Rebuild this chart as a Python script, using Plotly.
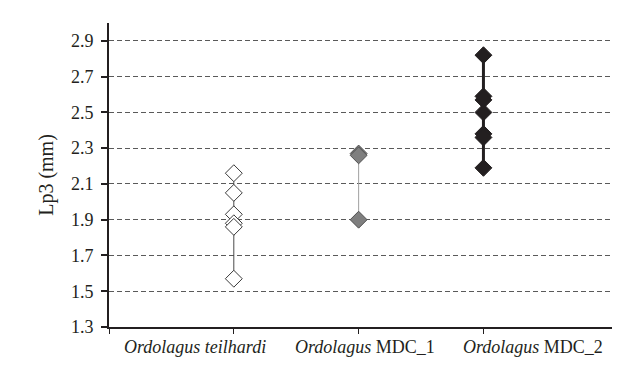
import plotly.graph_objects as go

# Data
group_pos = [1, 2, 3]
teilhardi = [2.16, 2.05, 1.93, 1.88, 1.86, 1.57]
mdc1 = [2.27, 2.26, 1.90]
mdc2 = [2.82, 2.59, 2.57, 2.50, 2.38, 2.36, 2.19]
label_pos = [0.69, 2.05, 3.40]
labels = ["<i>Ordolagus teilhardi</i>", "<i>Ordolagus</i> MDC_1", "<i>Ordolagus</i> MDC_2"]
y_ticks = [1.3, 1.5, 1.7, 1.9, 2.1, 2.3, 2.5, 2.7, 2.9]

AX = "#231f20"
FONT = "Liberation Serif"

fig = go.Figure()

series = [
    (teilhardi, group_pos[0], "#4a4a4a", 1, "white", "#3a3a3a"),
    (mdc1, group_pos[1], "#a0a0a0", 1, "#7f7f7f", "#505050"),
    (mdc2, group_pos[2], AX, 3, AX, AX),
]
for vals, xp, lc, lw, fc, mc in series:
    fig.add_trace(go.Scatter(
        x=[xp] * len(vals), y=vals, mode="lines+markers",
        line=dict(color=lc, width=lw),
        marker=dict(symbol="diamond", size=13, color=fc,
                    line=dict(color=mc, width=1)),
        showlegend=False, hoverinfo="skip", cliponaxis=False,
    ))

for xp, t in zip(label_pos, labels):
    fig.add_annotation(x=xp, y=0, xref="x", yref="paper", yanchor="top", yshift=-8,
                       text=t, showarrow=False,
                       font=dict(family=FONT, size=18, color=AX))

fig.update_layout(
    width=629, height=373,
    margin=dict(l=109, r=17, t=23, b=46),
    paper_bgcolor="white", plot_bgcolor="white",
    font=dict(family=FONT, size=18, color=AX),
    xaxis=dict(range=[0, 4.03], tickvals=[0, 1, 2, 3], ticktext=["", "", "", ""],
               ticks="outside", ticklen=5, tickcolor=AX, tickwidth=1,
               showline=True, linecolor=AX, linewidth=2, automargin=False,
               showgrid=False, zeroline=False, fixedrange=True),
    yaxis=dict(range=[1.3, 3.0], tickvals=y_ticks,
               ticktext=[f"{v:.1f}" for v in y_ticks],
               ticks="outside", ticklen=6, tickcolor=AX, tickwidth=1.5,
               showline=True, linecolor=AX, linewidth=2, automargin=False,
               showgrid=True, gridcolor="#5a5a5a", griddash="5px,3px", gridwidth=1,
               zeroline=False, ticklabelstandoff=4, fixedrange=True,
               title=dict(text="Lp3 (mm)", standoff=12,
                          font=dict(family=FONT, size=20, color=AX))),
)

fig.write_html("out.html", config={"displayModeBar": False},
               post_script="document.body.style.margin='0';document.body.style.overflow='hidden';")
